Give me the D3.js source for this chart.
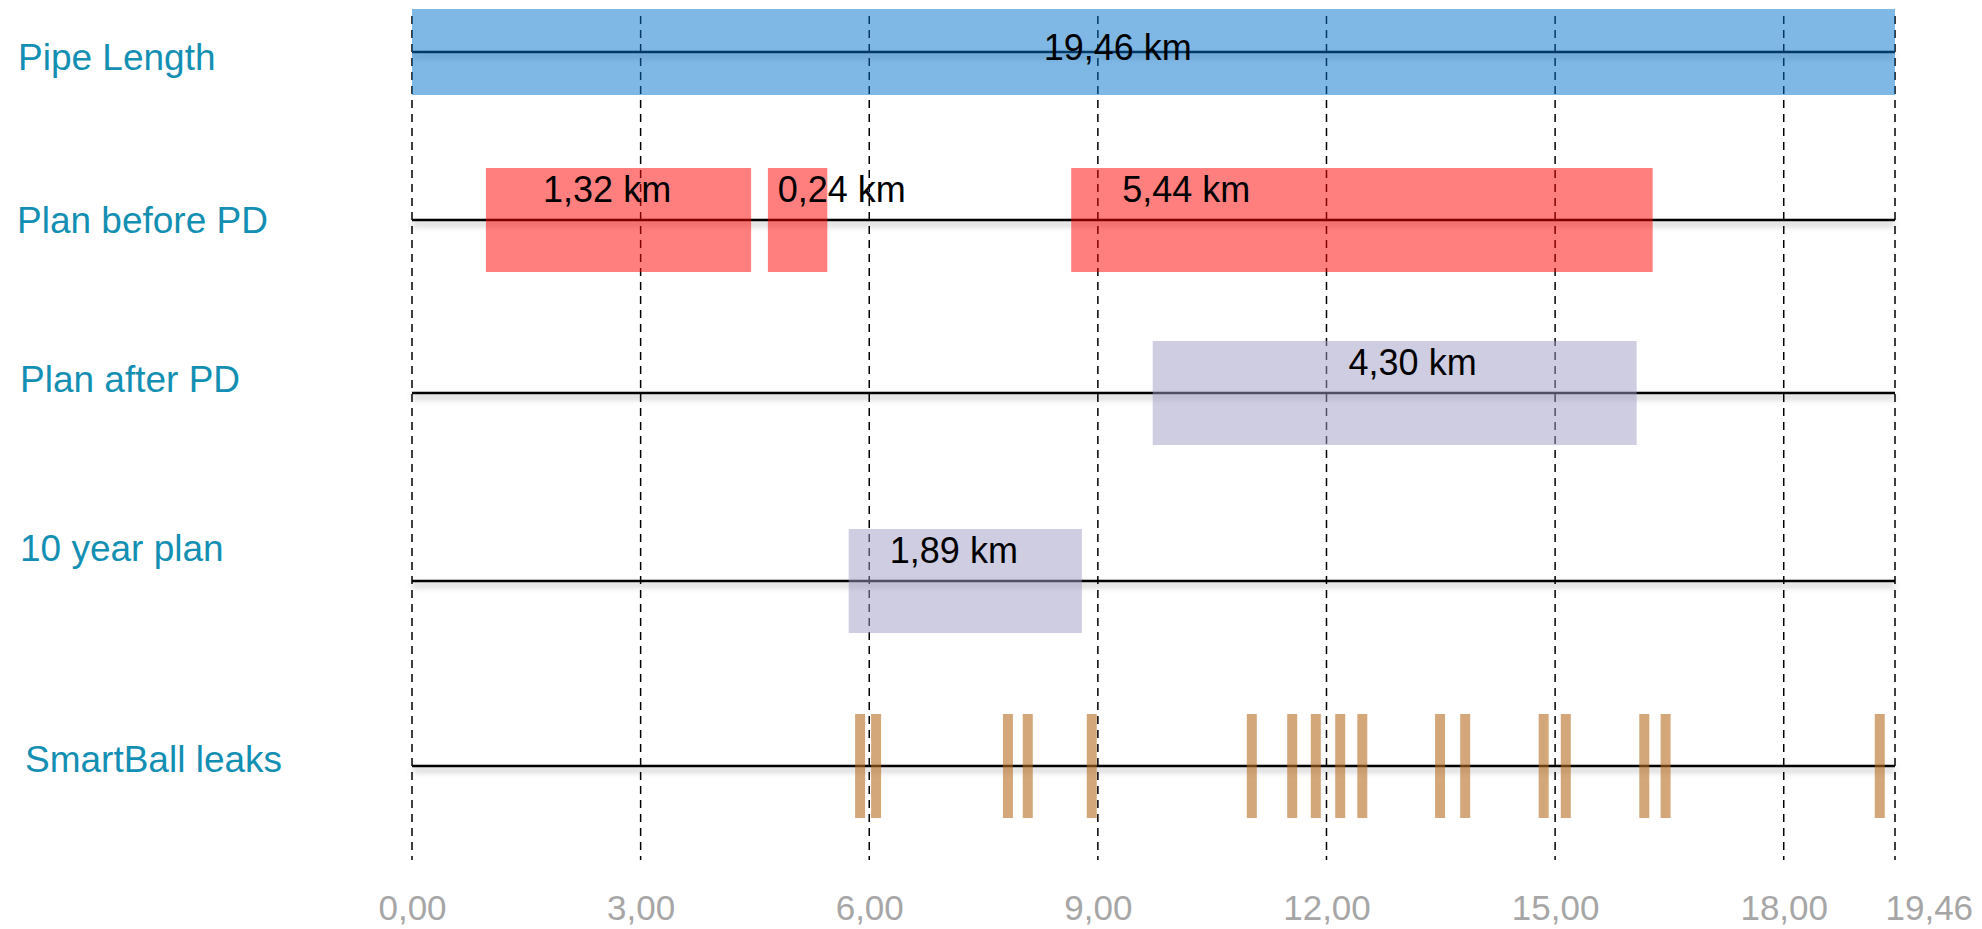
<!DOCTYPE html>
<html>
<head>
<meta charset="utf-8">
<script src="https://cdn.jsdelivr.net/npm/d3@7/dist/d3.min.js"></script>
<style>
  html, body { margin: 0; padding: 0; background: #ffffff; }
  svg { display: block; font-family: "Liberation Sans", Arial, sans-serif; }
</style>
</head>
<body>
<svg id="chart" width="1982" height="929"></svg>
<script>
// Rows of the chart
const categories = ["Pipe Length", "Plan before PD", "Plan after PD", "10 year plan", "SmartBall leaks"];

// Pipe length in km (extent of the axis)
const pipeLengthKm = 19.46;

// Axis ticks and their labels
const tickValues = [0, 3, 6, 9, 12, 15, 18, 19.46];
const tickLabels = ["0,00", "3,00", "6,00", "9,00", "12,00", "15,00", "18,00", "19,46"];

// Highlighted segments along the pipe (km)
const segRow     = ["Pipe Length", "Plan before PD", "Plan before PD", "Plan before PD", "Plan after PD", "10 year plan"];
const segKind    = ["length", "before", "before", "before", "after", "tenYear"];
const segStart   = [0, 0.97, 4.67, 8.65, 9.72, 5.73];
const segEnd     = [19.46, 4.45, 5.45, 16.28, 16.07, 8.79];
const segLabel   = ["19,46 km", "1,32 km", "0,24 km", "5,44 km", "4,30 km", "1,89 km"];
const segLabelAt = [8.29, 1.72, 4.80, 9.32, 12.29, 6.27];

// SmartBall leak locations (km)
const leakKm = [5.88, 6.09, 7.82, 8.08, 8.92, 11.02, 11.55, 11.86, 12.18, 12.47,
                13.49, 13.82, 14.85, 15.14, 16.17, 16.45, 19.26];

// ---- layout ----
const rowY = d3.scaleOrdinal(categories, [52, 220, 393, 581, 766]);
const rowLabelX  = d3.scaleOrdinal(categories, [18, 17, 20, 20, 25]);
const rowLabelDy = d3.scaleOrdinal(categories, [18, 13, -1, -20, 6]);

const x = d3.scaleLinear().domain([0, pipeLengthKm]).range([412, 1895]);

const fills = {
  length:  { color: "rgb(0,111,203)",   opacity: 0.5, height: 86 },
  before:  { color: "rgb(255,0,0)",     opacity: 0.5, height: 104 },
  after:   { color: "rgb(158,156,196)", opacity: 0.5, height: 104 },
  tenYear: { color: "rgb(158,156,196)", opacity: 0.5, height: 104 }
};

const svg = d3.select("#chart");

// Soft shadow under the row lines
const defs = svg.append("defs");
const f = defs.append("filter").attr("id", "lineShadow")
  .attr("x", "-5%").attr("y", "-400%").attr("width", "110%").attr("height", "900%");
f.append("feDropShadow").attr("dx", 0).attr("dy", 4).attr("stdDeviation", 3)
  .attr("flood-color", "#000").attr("flood-opacity", 0.35);

// Dashed vertical grid at the tick positions
svg.append("g").selectAll("line")
  .data(tickValues)
  .join("line")
  .attr("x1", d => x(d)).attr("x2", d => x(d))
  .attr("y1", 16).attr("y2", 860)
  .attr("stroke", "#000").attr("stroke-width", 1.5)
  .attr("stroke-dasharray", "8,6");

// Row lines spanning the whole pipe
svg.append("g").attr("filter", "url(#lineShadow)")
  .selectAll("line")
  .data(categories)
  .join("line")
  .attr("x1", x(0)).attr("x2", x(pipeLengthKm))
  .attr("y1", d => rowY(d)).attr("y2", d => rowY(d))
  .attr("stroke", "#000").attr("stroke-width", 2.5);

// Segment bars
const segs = segRow.map((r, i) => ({
  row: r, kind: segKind[i], start: segStart[i], end: segEnd[i],
  label: segLabel[i], labelAt: segLabelAt[i]
}));

svg.append("g").selectAll("rect")
  .data(segs)
  .join("rect")
  .attr("x", d => x(d.start))
  .attr("width", d => x(d.end) - x(d.start))
  .attr("y", d => rowY(d.row) - fills[d.kind].height / 2)
  .attr("height", d => fills[d.kind].height)
  .attr("fill", d => fills[d.kind].color)
  .attr("fill-opacity", d => fills[d.kind].opacity);

// Leak markers
svg.append("g").selectAll("rect")
  .data(leakKm)
  .join("rect")
  .attr("x", d => x(d) - 5)
  .attr("width", 10)
  .attr("y", rowY("SmartBall leaks") - 52)
  .attr("height", 104)
  .attr("fill", "rgb(183,108,33)")
  .attr("fill-opacity", 0.6);

// Segment length labels
svg.append("g").selectAll("text")
  .data(segs)
  .join("text")
  .attr("x", d => x(d.labelAt))
  .attr("y", d => rowY(d.row) + (d.kind === "length" ? 8 : -18))
  .attr("font-size", 36)
  .attr("fill", "#000")
  .text(d => d.label);

// Row labels
svg.append("g").selectAll("text")
  .data(categories)
  .join("text")
  .attr("x", d => rowLabelX(d))
  .attr("y", d => rowY(d) + rowLabelDy(d))
  .attr("font-size", 37)
  .attr("fill", "#138fb3")
  .text(d => d);

// Axis labels
const axis = d3.axisBottom(x)
  .tickValues(tickValues)
  .tickFormat((d, i) => tickLabels[i])
  .tickSize(0)
  .tickPadding(0);

const axisG = svg.append("g").attr("transform", "translate(0,890)").call(axis);
axisG.select(".domain").remove();
axisG.selectAll("text")
  .attr("font-size", 35)
  .attr("font-family", "'Liberation Sans', Arial, sans-serif")
  .attr("fill", "#a6a6a6")
  .attr("dy", 30);
axisG.selectAll(".tick").filter(d => d === pipeLengthKm).select("text")
  .attr("text-anchor", "start")
  .attr("dx", -10);
</script>
</body>
</html>
